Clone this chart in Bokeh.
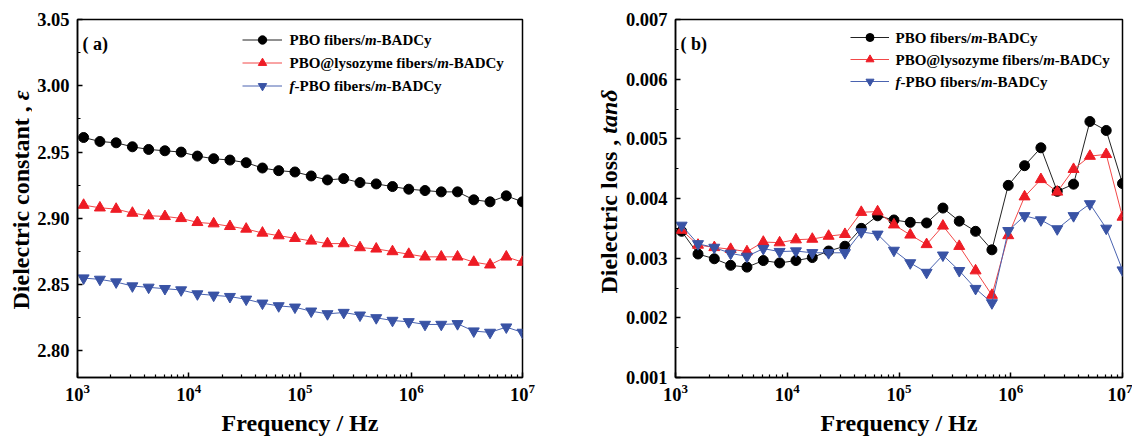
import math
from bokeh.plotting import figure
from bokeh.layouts import row
from bokeh.models import (FixedTicker, PrintfTickFormatter, Legend, LegendItem,
                          Label, Range1d)
from bokeh.core.properties import value
from bokeh.embed import file_html
from bokeh.resources import INLINE

# ---------------- data ----------------
freq = [1.135e3, 1.59e3, 2.225e3, 3.115e3, 4.36e3, 6.105e3, 8.545e3, 1.196e4,
        1.675e4, 2.345e4, 3.283e4, 4.596e4, 6.434e4, 9.009e4, 1.261e5, 1.766e5,
        2.472e5, 3.461e5, 4.845e5, 6.783e5, 9.497e5, 1.3295e6, 1.861e6,
        2.606e6, 3.648e6, 5.108e6, 7.151e6, 1.0e7]

eps_pbo = [2.961, 2.958, 2.957, 2.954, 2.952, 2.951, 2.950, 2.947, 2.945, 2.944,
           2.942, 2.938, 2.936, 2.935, 2.932, 2.929, 2.930, 2.927, 2.926, 2.924,
           2.922, 2.921, 2.920, 2.920, 2.914, 2.9125, 2.917, 2.9125]
eps_lys = [2.910, 2.908, 2.907, 2.904, 2.902, 2.9015, 2.900, 2.897, 2.896, 2.894,
           2.892, 2.889, 2.887, 2.885, 2.883, 2.881, 2.881, 2.878, 2.877, 2.875,
           2.873, 2.871, 2.871, 2.871, 2.867, 2.865, 2.871, 2.867]
eps_f = [2.855, 2.854, 2.852, 2.849, 2.848, 2.847, 2.846, 2.843, 2.842, 2.841,
         2.839, 2.836, 2.834, 2.833, 2.830, 2.828, 2.829, 2.827, 2.825, 2.823,
         2.822, 2.820, 2.820, 2.8205, 2.815, 2.814, 2.818, 2.814]

tan_pbo = [0.00345, 0.00307, 0.00299, 0.00288, 0.00285, 0.00296, 0.00292, 0.00296,
           0.00301, 0.00312, 0.00320, 0.00350, 0.00371, 0.00364, 0.00360, 0.00359,
           0.00384, 0.00362, 0.00345, 0.00314, 0.00422, 0.00455, 0.00485, 0.00412,
           0.00424, 0.00529, 0.00514, 0.00425]
tan_lys = [0.00347, 0.00322, 0.00318, 0.00315, 0.00311, 0.00327, 0.00326, 0.00331,
           0.00332, 0.00337, 0.00340, 0.00377, 0.00378, 0.00356, 0.00339, 0.00323,
           0.00354, 0.00320, 0.00279, 0.00238, 0.00338, 0.00403, 0.00432, 0.00411,
           0.00449, 0.00471, 0.00474, 0.00369]
tan_f = [0.00355, 0.00324, 0.00318, 0.00308, 0.00303, 0.00316, 0.00311, 0.00312,
         0.00309, 0.00309, 0.00309, 0.00344, 0.00340, 0.00313, 0.00292, 0.00276,
         0.00305, 0.00279, 0.00249, 0.00225, 0.00346, 0.00371, 0.00364, 0.00349,
         0.00371, 0.00391, 0.00350, 0.00280]

# legend texts as (run, style) pieces: italic "m" and "f"
legend_runs = [
    [("PBO fibers/", "bold"), ("m", "bold italic"), ("-BADCy", "bold")],
    [("PBO@lysozyme fibers/", "bold"), ("m", "bold italic"), ("-BADCy", "bold")],
    [("f", "bold italic"), ("-PBO fibers/", "bold"), ("m", "bold italic"), ("-BADCy", "bold")],
]
x_title = "Frequency / Hz"
panel_letters = ["( a)", "( b)"]
ytitle_a = ("Dielectric constant , ", "\u03b5")
ytitle_b = ("Dielectric loss , ", "tan\u03b4")

# ---------------- style ----------------
FONT = "Liberation Serif"
H = 439
TOP, BOTTOM = 19, 62
FH = H - TOP - BOTTOM
TB = {' ': .25, 'P': .611, 'B': .667, 'O': .778, 'f': .333, 'i': .278, 'b': .556,
      'e': .444, 'r': .444, 's': .389, '/': .278, '@': .93, 'l': .278, 'y': .5,
      'o': .5, 'z': .444, 'm': .833, '-': .333, 'A': .722, 'D': .722, 'C': .722}
TBI = {'m': .778, 'f': .333}


def run_width(s, style, size):
    tab = TBI if "italic" in style else TB
    return sum(tab.get(c, TB.get(c, .5)) for c in s) * size


series_style = [
    ("#000000", "#222222", "circle", 10),
    ("#ee1c25", "#f24848", "triangle", 11),
    ("#3953a5", "#4a63b0", "inverted_triangle", 11),
]


def title_fig(width, x, split, parts):
    """Narrow strip holding the rotated y title (bold + bold-italic part)."""
    t = figure(width=width, height=H, x_range=Range1d(0, width), y_range=Range1d(0, H),
               output_backend="svg", toolbar_location=None,
               x_axis_location=None, y_axis_location=None,
               min_border_left=0, min_border_right=0, min_border_top=0,
               min_border_bottom=0)
    t.xgrid.visible = False
    t.ygrid.visible = False
    t.outline_line_color = None
    main, ital = parts
    t.text(x=[x], y=[split], text=[main], angle=math.pi / 2,
           text_font=value(FONT), text_font_style=value("bold"),
           text_font_size=value("24px"), text_align="right",
           text_baseline="middle", text_color="black")
    t.text(x=[x], y=[split], text=[ital], angle=math.pi / 2,
           text_font=value(FONT), text_font_style=value("bold italic"),
           text_font_size=value("24px"), text_align="left",
           text_baseline="middle", text_color="black")
    return t


def build(width, min_left, min_right, yr, y_major, y_minor, yfmt, ys, leg, letter):
    p = figure(width=width, height=H, x_axis_type="log",
               x_range=Range1d(1e3, 1e7), y_range=Range1d(*yr),
               output_backend="svg", toolbar_location=None,
               min_border_left=min_left, min_border_right=min_right,
               min_border_top=TOP, min_border_bottom=BOTTOM)
    p.xgrid.visible = False
    p.ygrid.visible = False
    p.outline_line_color = "black"
    p.outline_line_width = 1.5
    p.outline_line_alpha = 1.0

    xa = p.xaxis[0]
    xa.ticker = FixedTicker(ticks=[1e3, 1e4, 1e5, 1e6, 1e7],
                            minor_ticks=[k * 10 ** e for e in range(3, 7) for k in range(2, 10)])
    ya = p.yaxis[0]
    ya.ticker = FixedTicker(ticks=y_major, minor_ticks=y_minor)
    ya.formatter = PrintfTickFormatter(format=yfmt)
    for ax in (xa, ya):
        ax.axis_line_width = 1.5
        ax.major_tick_in = 5
        ax.major_tick_out = 0
        ax.minor_tick_in = 3
        ax.minor_tick_out = 0
        ax.major_tick_line_width = 1.5
        ax.minor_tick_line_width = 1.2
        ax.major_label_text_font = FONT
        ax.major_label_text_font_style = "bold"
        ax.major_label_text_font_size = "18.5px"
        ax.major_label_text_color = "black"
    ya.major_label_standoff = 8
    xa.major_label_standoff = 6
    xa.axis_label = x_title
    xa.axis_label_text_font = FONT
    xa.axis_label_text_font_style = "bold"
    xa.axis_label_text_font_size = "24px"
    xa.axis_label_text_color = "black"
    xa.axis_label_standoff = 6

    items = []
    for yv, (mc, lc, mk, sz) in zip(ys, series_style):
        rl = p.line(freq, yv, line_color=lc, line_width=1)
        rs = p.scatter(freq, yv, marker=mk, size=sz, fill_color=mc, line_color=mc)
        items.append(LegendItem(label=value(""), renderers=[rl, rs]))

    lx, ly, gw, gh, sp, tx = leg
    legend = Legend(items=items, location=(lx, ly), glyph_width=gw, glyph_height=gh,
                    label_height=gh, label_width=0, label_standoff=0, spacing=sp,
                    padding=0, margin=0, border_line_alpha=0,
                    background_fill_alpha=0)
    p.add_layout(legend)

    top_from_frame = FH - ly - (3 * gh + 2 * sp)
    for i, runs in enumerate(legend_runs):
        yrow = FH - (top_from_frame + i * (gh + sp) + gh / 2)
        x = tx
        for txt, st in runs:
            p.add_layout(Label(x=x, y=yrow, x_units="screen", y_units="screen",
                               text=txt, text_font=FONT, text_font_style=st,
                               text_font_size="15px", text_baseline="middle",
                               text_align="left", text_color="black"))
            x += run_width(txt, st, 15)

    p.add_layout(Label(x=5, y=FH - 24, x_units="screen", y_units="screen",
                       text=letter, text_font=FONT, text_font_style="bold",
                       text_font_size="18px", text_baseline="middle",
                       text_color="black"))
    return p


ta = title_fig(32, 20, BOTTOM + 278, ytitle_a)
pa = build(528, 45, 38, (2.78, 3.05),
           [2.80, 2.85, 2.90, 2.95, 3.00, 3.05],
           [2.775, 2.825, 2.875, 2.925, 2.975, 3.025], "%.2f",
           [eps_pbo, eps_lys, eps_f],
           (165, 281.5, 40, 21, 2, 212), panel_letters[0])

tb = title_fig(62, 48, BOTTOM + 237, ytitle_b)
pb = build(510, 51, 10, (0.001, 0.007),
           [0.001, 0.002, 0.003, 0.004, 0.005, 0.006, 0.007],
           [0.0015, 0.0025, 0.0035, 0.0045, 0.0055, 0.0065], "%.3f",
           [tan_pbo, tan_lys, tan_f],
           (175, 286, 39, 20, 2, 220), panel_letters[1])

layout = row(ta, pa, tb, pb)
open("out.html", "w").write(file_html(layout, INLINE))
